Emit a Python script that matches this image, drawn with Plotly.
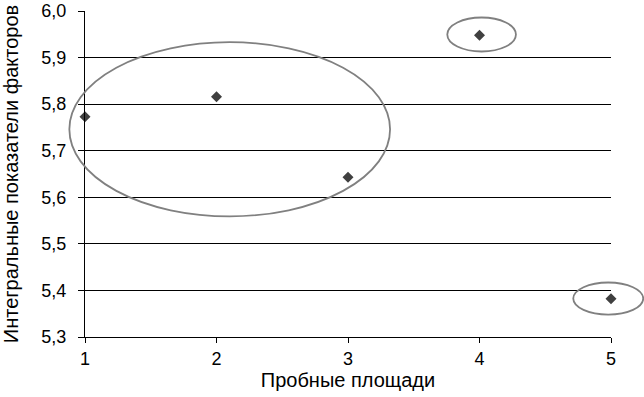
import plotly.graph_objects as go

# Data
plots = [1, 2, 3, 4, 5]
values = [5.773, 5.816, 5.643, 5.948, 5.382]
y_ticks = [5.3, 5.4, 5.5, 5.6, 5.7, 5.8, 5.9, 6.0]
x_ticks = [1, 2, 3, 4, 5]

# Highlight ellipses (data coordinates: x0, x1, y0, y1)
ellipses = [
    (0.881, 3.32, 5.559, 5.933),
    (3.755, 4.277, 5.913, 5.986),
    (4.713, 5.245, 5.348, 5.417),
]

X_RANGE = [1, 5]
Y_RANGE = [5.3, 6.0]


def px(x):
    return (x - X_RANGE[0]) / (X_RANGE[1] - X_RANGE[0])


def py(y):
    return (y - Y_RANGE[0]) / (Y_RANGE[1] - Y_RANGE[0])


fig = go.Figure()
fig.add_trace(go.Scatter(
    x=plots, y=values, mode="markers",
    marker=dict(symbol="diamond", size=8.5, color="#404040",
                line=dict(width=0)),
    cliponaxis=False, showlegend=False,
))

shapes = []
for x0, x1, y0, y1 in ellipses:
    shapes.append(dict(
        type="circle", xref="paper", yref="paper",
        x0=px(x0), x1=px(x1), y0=py(y0), y1=py(y1),
        line=dict(color="#808080", width=1.8),
        layer="above",
    ))

FONT = "Liberation Sans, Arial, sans-serif"

fig.update_layout(
    width=644, height=397,
    margin=dict(l=85, r=33, t=11, b=60),
    paper_bgcolor="white", plot_bgcolor="white",
    separators=",.",
    font=dict(family=FONT, size=18, color="#000000"),
    shapes=shapes,
    xaxis=dict(
        range=X_RANGE, tickvals=x_ticks, ticktext=[str(v) for v in x_ticks],
        showgrid=False, zeroline=False, automargin=False,
        showline=True, linecolor="black", linewidth=1,
        ticks="outside", ticklen=5, tickcolor="black", tickwidth=1,
        tickfont=dict(size=18), ticklabelstandoff=0,
        title=dict(text="Пробные площади", font=dict(size=20), standoff=4),
    ),
    yaxis=dict(
        range=Y_RANGE, tickvals=y_ticks, tickformat=".1f",
        showgrid=True, gridcolor="black", gridwidth=1, zeroline=False,
        automargin=False,
        showline=True, linecolor="black", linewidth=1,
        ticks="outside", ticklen=6, tickcolor="black", tickwidth=1,
        tickfont=dict(size=18), ticklabelstandoff=8,
        title=dict(text="Интегральные показатели факторов", font=dict(size=20), standoff=20),
    ),
)

fig.write_html(
    "out.html",
    config={"displayModeBar": False},
    post_script="document.body.style.margin='0';document.body.style.overflow='hidden';",
)
